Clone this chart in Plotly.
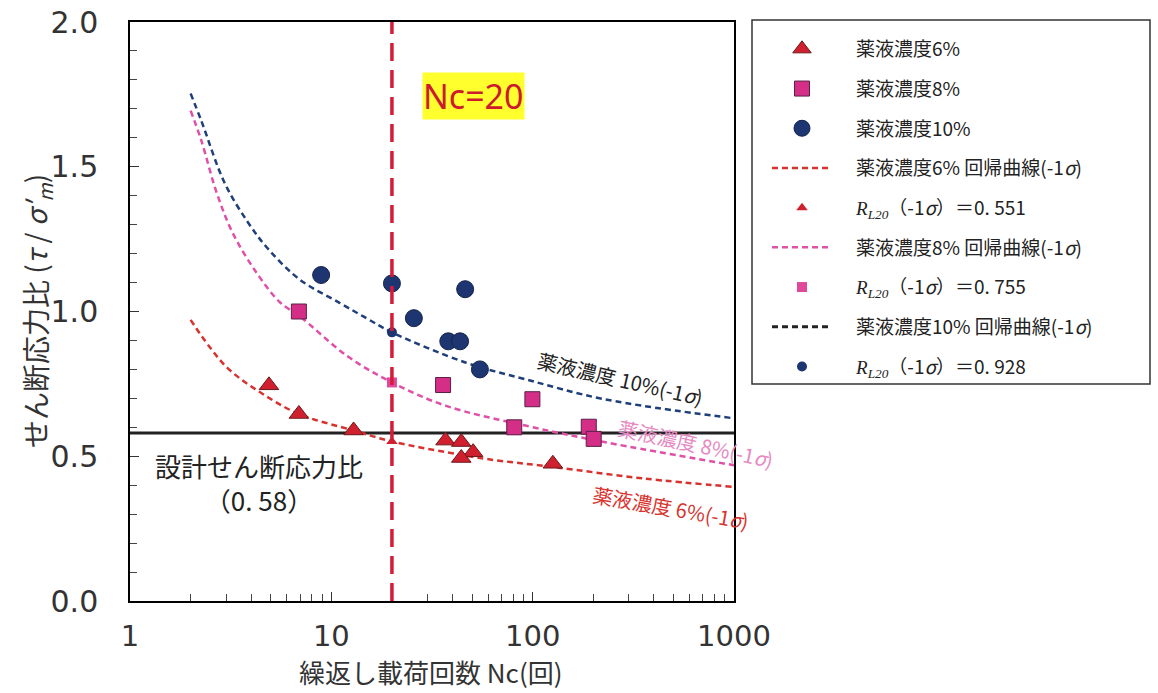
import plotly.graph_objects as go

# ---------------- data ----------------
NC_REF = 20
DESIGN_RATIO = 0.58

# measured points
nc_6 = [4.9, 6.9, 12.9, 36.9, 44.2, 50.6, 44.2, 126]
r_6 = [0.745, 0.646, 0.589, 0.554, 0.549, 0.514, 0.494, 0.474]

nc_8 = [6.9, 35.9, 99.7, 81, 190, 201]
r_8 = [1.00, 0.746, 0.697, 0.60, 0.602, 0.56]

nc_10 = [8.9, 20, 25.7, 38.1, 43.6, 46.2, 54.7]
r_10 = [1.126, 1.097, 0.977, 0.897, 0.897, 1.077, 0.80]

# regression curves (-1 sigma)
curve6_nc = [2.0, 2.47, 3.1, 4.45, 6.9, 12.9, 20, 37.2, 58.4, 126, 357, 1000]
curve6_r = [0.971, 0.88, 0.80, 0.72, 0.646, 0.589, 0.551, 0.514, 0.491, 0.463, 0.423, 0.394]

curve8_nc = [2.0, 2.26, 2.7, 3.24, 4.25, 5.57, 6.98, 12.0, 20, 37.2, 91.9, 227, 1000]
curve8_r = [1.694, 1.591, 1.408, 1.271, 1.134, 1.031, 0.983, 0.846, 0.755, 0.674, 0.606, 0.549, 0.469]

curve10_nc = [2.0, 2.26, 2.96, 3.88, 4.87, 6.98, 10.98, 15.1, 20, 46.7, 91.9, 227, 1000]
curve10_r = [1.753, 1.659, 1.442, 1.305, 1.215, 1.110, 1.030, 0.975, 0.928, 0.823, 0.766, 0.697, 0.631]

# R_L20 values at Nc = 20
rl20_6 = 0.551
rl20_8 = 0.755
rl20_10 = 0.928

x_ticks = [1, 10, 100, 1000]
x_minor = [2, 3, 4, 5, 6, 7, 8, 9, 20, 30, 40, 50, 60, 70, 80, 90,
           200, 300, 400, 500, 600, 700, 800, 900]
y_ticks = [0.0, 0.5, 1.0, 1.5, 2.0]

# ---------------- styles ----------------
NAVY = "#1d3570"
LFONT = "Noto Sans CJK JP"
TFONT = "DejaVu Sans"

# plot area in pixels
PL, PR, PT, PB = 130, 734, 22, 601
PW, PH = PR - PL, PB - PT

def px_x(px):   # pixel -> log10 data x
    return (px - PL) / PW * 3

def px_y(py):
    return (PB - py) / PH * 2

def paper_x(px):
    return (px - PL) / PW

def paper_y(py):
    return (PB - py) / PH

fig = go.Figure()

IND = "\u3000"   # gap between legend symbol and text
rl = '<span style="font-family:Liberation Serif"><i>R</i><sub><i>L20</i></sub></span>'
sig = "<i>σ</i>"
DASH = "6px,4px"

# curves first (drawn underneath)
fig.add_trace(go.Scatter(x=curve6_nc, y=curve6_r, mode="lines",
    name=IND + "薬液濃度6% 回帰曲線(-1" + sig + ")", legendgroup="g4", legendrank=400,
    line=dict(color="#d8322e", width=2.5, dash=DASH, shape="spline")))
fig.add_trace(go.Scatter(x=curve8_nc, y=curve8_r, mode="lines",
    name=IND + "薬液濃度8% 回帰曲線(-1" + sig + ")", legendgroup="g6", legendrank=600,
    line=dict(color="#e050a6", width=2.5, dash=DASH, shape="spline")))
fig.add_trace(go.Scatter(x=curve10_nc, y=curve10_r, mode="lines",
    showlegend=False,
    line=dict(color="#1f3f7a", width=2.5, dash=DASH, shape="spline")))
fig.add_trace(go.Scatter(x=[None], y=[None], mode="lines",
    name=IND + "薬液濃度10% 回帰曲線(-1" + sig + ")", legendgroup="g8", legendrank=800,
    line=dict(color="#222222", width=3, dash=DASH)))

# measured points
fig.add_trace(go.Scatter(x=nc_6, y=r_6, mode="markers", name=IND + "薬液濃度6%",
    legendgroup="g1", legendrank=100,
    marker=dict(symbol="triangle-up", size=17, color="#d02030",
                line=dict(color="#6a1a1a", width=1))))
fig.add_trace(go.Scatter(x=nc_8, y=r_8, mode="markers", name=IND + "薬液濃度8%",
    legendgroup="g2", legendrank=200,
    marker=dict(symbol="square", size=15, color="#d42e86",
                line=dict(color="#5a2048", width=1))))
fig.add_trace(go.Scatter(x=nc_10, y=r_10, mode="markers", name=IND + "薬液濃度10%",
    legendgroup="g3", legendrank=300,
    marker=dict(symbol="circle", size=17, color=NAVY,
                line=dict(color="#15244a", width=1))))

# R_L20 markers
fig.add_trace(go.Scatter(x=[NC_REF], y=[rl20_6], mode="markers",
    name=IND + rl + "（-1" + sig + "）＝0. 551", legendgroup="g5", legendrank=500,
    marker=dict(symbol="triangle-up", size=10, color="#d02030")))
fig.add_trace(go.Scatter(x=[NC_REF], y=[rl20_8], mode="markers",
    name=IND + rl + "（-1" + sig + "）＝0. 755", legendgroup="g7", legendrank=700,
    marker=dict(symbol="square", size=10, color="#e0489a")))
fig.add_trace(go.Scatter(x=[NC_REF], y=[rl20_10], mode="markers",
    name=IND + rl + "（-1" + sig + "）＝0. 928", legendgroup="g9", legendrank=900,
    marker=dict(symbol="circle", size=10, color=NAVY)))

# design ratio line (below markers)
fig.add_shape(type="line", xref="paper", x0=0, x1=1, yref="y", y0=DESIGN_RATIO, y1=DESIGN_RATIO,
              line=dict(color="#222222", width=3), layer="below")
# Nc = 20 line (above)
fig.add_shape(type="line", xref="x", x0=NC_REF, x1=NC_REF, yref="paper", y0=0, y1=1,
              line=dict(color="#d41c3a", width=3.5, dash="18px,9px"), layer="above")

# legend box
fig.add_shape(type="rect", xref="paper", yref="paper",
              x0=paper_x(752), x1=paper_x(1150),
              y0=paper_y(384), y1=paper_y(20),
              line=dict(color="#333333", width=1.5), fillcolor="rgba(0,0,0,0)", layer="above")

# annotations
fig.add_annotation(x=px_x(473), y=px_y(96), text="Nc=20", showarrow=False,
                   font=dict(family="Noto Sans", size=34, color="#cc1a2e"),
                   bgcolor="#ffff2e", borderpad=0)
fig.add_annotation(x=px_x(620), y=px_y(378), text="薬液濃度 10%(-1" + sig + ")",
                   showarrow=False, textangle=13,
                   font=dict(family=LFONT, size=20, color="#222222"))
fig.add_annotation(x=px_x(696), y=px_y(443), text="薬液濃度 8%(-1" + sig + ")",
                   showarrow=False, textangle=12,
                   font=dict(family=LFONT, size=20, color="#e58ac2"))
fig.add_annotation(x=px_x(671), y=px_y(507), text="薬液濃度 6%(-1" + sig + ")",
                   showarrow=False, textangle=10,
                   font=dict(family=LFONT, size=20, color="#d8322e"))
fig.add_annotation(x=px_x(259), y=px_y(482), text="設計せん断応力比<br>（0. 58）",
                   showarrow=False, align="center",
                   font=dict(family=LFONT, size=26, color="#222222"))

# axis titles
fig.add_annotation(xref="paper", yref="paper", x=paper_x(430), y=paper_y(671),
                   xanchor="center", yanchor="middle",
                   text="繰返し載荷回数 Nc(回)", showarrow=False,
                   font=dict(family=LFONT, size=26, color="#333"))
fig.add_annotation(xref="paper", yref="paper", x=paper_x(37), y=paper_y(311),
                   xanchor="center", yanchor="middle",
                   text="せん断応力比 (<i>τ</i> / <i>σ′<sub>m</sub></i>)", showarrow=False,
                   textangle=-90, font=dict(family=LFONT, size=28, color="#333"))

fig.update_xaxes(type="log", range=[0, 3], tickvals=x_ticks, ticktext=[str(v) for v in x_ticks],
                 ticks="inside", ticklen=9, tickcolor="#333", tickwidth=1,
                 minor=dict(tickmode="array", tickvals=x_minor, ticks="inside", ticklen=7,
                            tickcolor="#444", tickwidth=1, showgrid=False),
                 showgrid=False, zeroline=False, showline=True, mirror=True,
                 linecolor="black", linewidth=1.5, ticklabelstandoff=8, automargin=False,
                 tickfont=dict(family=TFONT, size=29, color="#333"))
fig.update_yaxes(range=[0, 2], tickvals=y_ticks, ticktext=["%.1f" % v for v in y_ticks],
                 ticks="inside", ticklen=9, tickcolor="#333", tickwidth=1,
                 minor=dict(dtick=0.1, ticks="inside", ticklen=7, tickcolor="#444",
                            tickwidth=1, showgrid=False),
                 showgrid=False, zeroline=False, showline=True, mirror=True,
                 linecolor="black", linewidth=1.5, ticklabelstandoff=24, automargin=False,
                 tickfont=dict(family=TFONT, size=30, color="#333"))

fig.update_layout(
    width=1158, height=693,
    margin=dict(l=PL, r=1158 - PR, t=PT, b=693 - PB),
    plot_bgcolor="white", paper_bgcolor="white",
    legend=dict(x=paper_x(767), y=1 - 8 / PH, xanchor="left", yanchor="top",
                bgcolor="rgba(0,0,0,0)", borderwidth=0, tracegroupgap=12,
                itemwidth=60, traceorder="grouped",
                font=dict(family=LFONT, size=19, color="#222")),
)

fig.write_html("out.html", config={"displayModeBar": False},
               post_script="document.body.style.margin='0';")
